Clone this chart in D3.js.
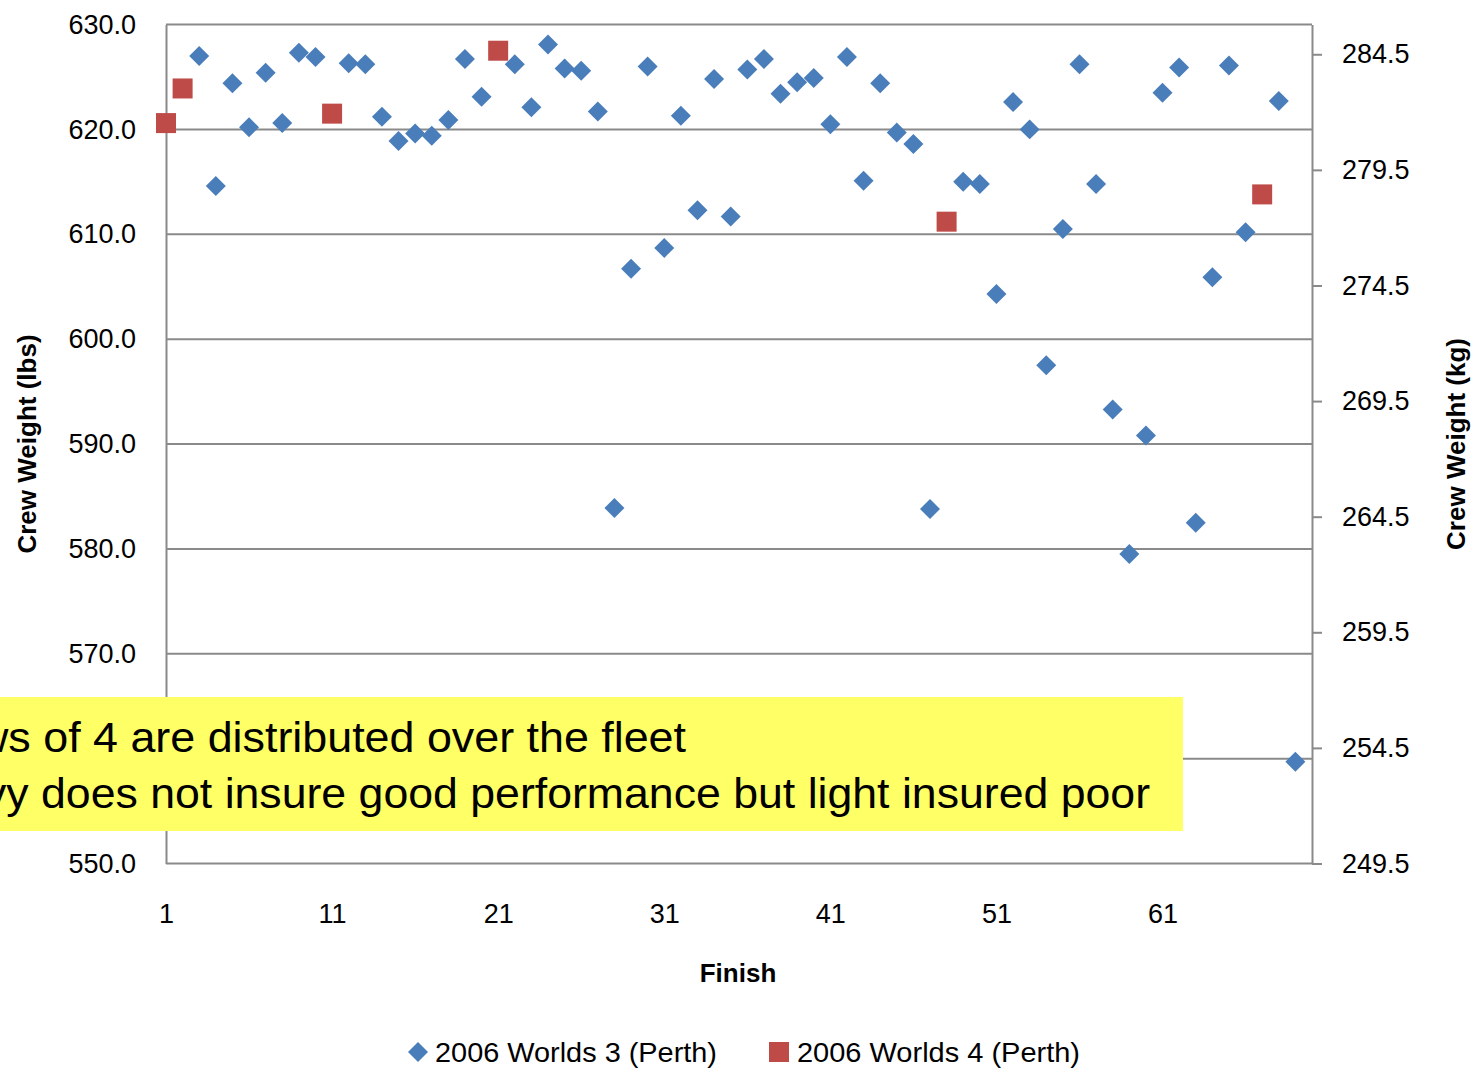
<!DOCTYPE html>
<html>
<head>
<meta charset="utf-8">
<script src="https://cdn.jsdelivr.net/npm/d3@7"></script>
<style>
  body { margin: 0; background: #fff; }
  svg { display: block; font-family: "Liberation Sans", Arial, sans-serif; }
</style>
</head>
<body>
<svg id="chart" width="1476" height="1068"></svg>
<script>
// finish positions and crew weights (lbs)
var crews3Finish = [3,4,5,6,7,8,9,10,12,13,14,15,16,17,18,19,20,22,23,24,25,26,27,28,29,30,
    31,32,33,34,35,36,37,38,39,40,41,42,43,44,45,46,47,49,50,51,52,53,54,55,56,57,58,59,60,
    61,62,63,64,65,66,68,69];
var crews3Weight = [627.0,614.6,624.4,620.2,625.4,620.6,627.3,626.9,626.3,626.2,621.2,618.9,619.6,619.4,
    620.9,626.7,623.1,626.2,622.1,628.1,625.8,625.6,621.7,583.9,606.7,626.0,
    608.7,621.3,612.3,624.8,611.7,625.7,626.7,623.4,624.5,624.9,620.5,626.9,615.1,624.4,619.7,618.6,583.8,
    615.0,614.8,604.3,622.6,620.0,597.5,610.5,626.2,614.8,593.3,579.5,590.8,
    623.5,625.9,582.5,605.9,626.1,610.2,622.7,559.7];
var crews4Finish = [1,2,11,21,48,67];
var crews4Weight = [620.6,623.9,621.5,627.5,611.2,613.8];

var leftTicks = [550,560,570,580,590,600,610,620,630];
var rightTicks = [249.5,254.5,259.5,264.5,269.5,274.5,279.5,284.5];
var xTicks = [1,11,21,31,41,51,61];
var seriesNames = ["2006 Worlds 3 (Perth)", "2006 Worlds 4 (Perth)"];
var noteLines = ["ws of 4 are distributed over the fleet",
    "vy does not insure good performance but light insured poor"];

var blue = "#4A7EBB", red = "#BE4B48", grid = "#8a8a8a";
var svg = d3.select("#chart");
var plotL = 166, plotR = 1312, plotT = 24.5, plotB = 863.5;

var x = d3.scaleLinear().domain([1,70]).range([plotL,plotR]);
var y = d3.scaleLinear().domain([550,630]).range([plotB,plotT]);
var yKg = d3.scaleLinear().domain([249.5, 249.5 + 80/2.20462]).range([plotB,plotT]);

// gridlines
svg.append("g").selectAll("line").data(leftTicks).enter().append("line")
    .attr("x1", plotL).attr("x2", plotR)
    .attr("y1", function(d){ return y(d); }).attr("y2", function(d){ return y(d); })
    .attr("stroke", grid).attr("stroke-width", 2);

// left axis
var gl = svg.append("g").attr("transform", "translate(" + plotL + ",0)")
    .call(d3.axisLeft(y).tickValues(leftTicks).tickFormat(d3.format(".1f")).tickSize(0).tickPadding(30));
gl.select(".domain").attr("stroke", grid).attr("stroke-width", 2);
gl.selectAll("text").attr("font-size", 27).attr("fill", "#000");

// right axis
var gr = svg.append("g").attr("transform", "translate(" + plotR + ",0)")
    .call(d3.axisRight(yKg).tickValues(rightTicks).tickFormat(d3.format(".1f")).tickSize(10).tickSizeOuter(0).tickPadding(20));
gr.select(".domain").attr("stroke", grid).attr("stroke-width", 2);
gr.selectAll("line").attr("stroke", grid).attr("stroke-width", 2);
gr.selectAll("text").attr("font-size", 27).attr("fill", "#000");

// bottom axis
var gb = svg.append("g").attr("transform", "translate(0," + plotB + ")")
    .call(d3.axisBottom(x).tickValues(xTicks).tickSize(0).tickPadding(40));
gb.select(".domain").remove();
gb.selectAll("text").attr("font-size", 27).attr("fill", "#000");

// axis titles
svg.append("text").attr("transform", "translate(36,444) rotate(-90)")
    .attr("text-anchor", "middle").attr("font-weight", "bold").attr("font-size", 26)
    .text("Crew Weight (lbs)");
svg.append("text").attr("transform", "translate(1465,444) rotate(-90)")
    .attr("text-anchor", "middle").attr("font-weight", "bold").attr("font-size", 26)
    .text("Crew Weight (kg)");
svg.append("text").attr("x", 738).attr("y", 982)
    .attr("text-anchor", "middle").attr("font-weight", "bold").attr("font-size", 26)
    .text("Finish");

// points
var diamond = d3.symbol().type(d3.symbolSquare).size(200);
var square = d3.symbol().type(d3.symbolSquare).size(400);

svg.append("g").selectAll("path").data(d3.range(crews3Finish.length)).enter().append("path")
    .attr("d", diamond)
    .attr("transform", function(i){ return "translate(" + x(crews3Finish[i]) + "," + y(crews3Weight[i]) + ") rotate(45)"; })
    .attr("fill", blue);
svg.append("g").selectAll("path").data(d3.range(crews4Finish.length)).enter().append("path")
    .attr("d", square)
    .attr("transform", function(i){ return "translate(" + x(crews4Finish[i]) + "," + y(crews4Weight[i]) + ")"; })
    .attr("fill", red);

// annotation box
svg.append("rect").attr("x", -10).attr("y", 697).attr("width", 1193).attr("height", 134)
    .attr("fill", "#FFFF66");
svg.append("text").attr("x", -24).attr("y", 752).attr("font-size", 42)
    .attr("textLength", 710).attr("lengthAdjust", "spacingAndGlyphs").text(noteLines[0]);
svg.append("text").attr("x", -16).attr("y", 808).attr("font-size", 42)
    .attr("textLength", 1166).attr("lengthAdjust", "spacingAndGlyphs").text(noteLines[1]);

// legend
var lg = svg.append("g");
lg.append("path").attr("d", diamond).attr("transform", "translate(418,1052) rotate(45)").attr("fill", blue);
lg.append("text").attr("x", 435).attr("y", 1062).attr("font-size", 28)
    .attr("textLength", 282).attr("lengthAdjust", "spacingAndGlyphs").text(seriesNames[0]);
lg.append("path").attr("d", square).attr("transform", "translate(779,1052)").attr("fill", red);
lg.append("text").attr("x", 797).attr("y", 1062).attr("font-size", 28)
    .attr("textLength", 283).attr("lengthAdjust", "spacingAndGlyphs").text(seriesNames[1]);
</script>
</body>
</html>
